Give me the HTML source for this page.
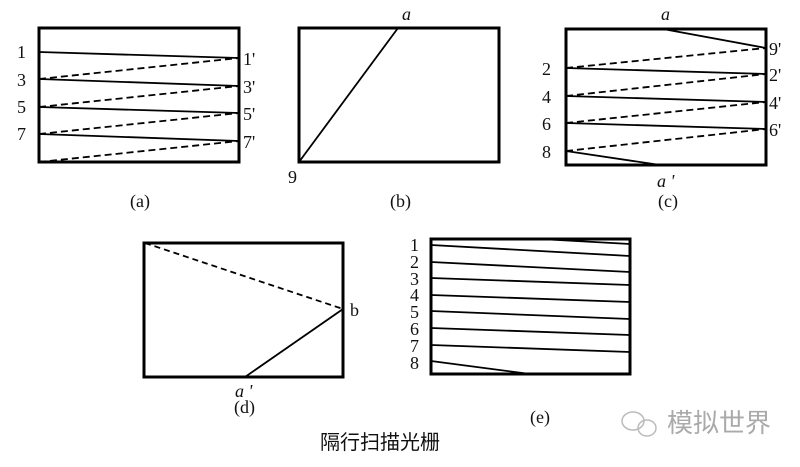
<!DOCTYPE html>
<html><head><meta charset="utf-8"><style>
html,body{margin:0;padding:0;background:#fff;}
svg{display:block;}
text{font-family:"Liberation Serif",serif;font-size:18px;fill:#111;}
.i{font-style:italic;}
.cn{font-family:"Liberation Sans","Noto Sans CJK SC",sans-serif;}
</style></head><body>
<svg width="800" height="467" viewBox="0 0 800 467" xmlns="http://www.w3.org/2000/svg">
<g stroke="#000" fill="none">
<rect x="39" y="28" width="200" height="134" stroke-width="3"/>
<g stroke-width="1.8">
<line x1="39" y1="52" x2="239" y2="58"/>
<line x1="39" y1="79" x2="239" y2="86"/>
<line x1="39" y1="107" x2="239" y2="113"/>
<line x1="39" y1="134" x2="239" y2="141"/>
</g>
<g stroke-width="1.8" stroke-dasharray="7,4">
<line x1="39" y1="79" x2="239" y2="58"/>
<line x1="39" y1="107" x2="239" y2="86"/>
<line x1="39" y1="134" x2="239" y2="113"/>
<line x1="39" y1="162" x2="239" y2="141"/>
</g>
<rect x="299" y="28" width="200" height="134" stroke-width="3"/>
<line x1="299" y1="162" x2="398" y2="28" stroke-width="1.8"/>
<rect x="566" y="29" width="200" height="136" stroke-width="3"/>
<g stroke-width="1.8">
<line x1="663" y1="29" x2="766" y2="48"/>
<line x1="566" y1="68" x2="766" y2="74"/>
<line x1="566" y1="96" x2="766" y2="102"/>
<line x1="566" y1="123" x2="766" y2="129"/>
<line x1="566" y1="151" x2="660" y2="165"/>
</g>
<g stroke-width="1.8" stroke-dasharray="7,4">
<line x1="566" y1="68" x2="766" y2="48"/>
<line x1="566" y1="96" x2="766" y2="74"/>
<line x1="566" y1="123" x2="766" y2="102"/>
<line x1="566" y1="151" x2="766" y2="129"/>
</g>
<rect x="144" y="243" width="199" height="134" stroke-width="3"/>
<line x1="145" y1="243" x2="343" y2="309" stroke-width="1.8" stroke-dasharray="6,4"/>
<line x1="343" y1="309" x2="245" y2="377" stroke-width="1.8"/>
<rect x="431" y="239" width="199" height="135" stroke-width="3"/>
<g stroke-width="1.8">
<line x1="540" y1="239" x2="630" y2="244"/>
<line x1="431" y1="245" x2="630" y2="256"/>
<line x1="431" y1="262" x2="630" y2="272"/>
<line x1="431" y1="278" x2="630" y2="285"/>
<line x1="431" y1="295" x2="630" y2="302"/>
<line x1="431" y1="311" x2="630" y2="319"/>
<line x1="431" y1="328" x2="630" y2="335"/>
<line x1="431" y1="345" x2="630" y2="352"/>
<line x1="431" y1="361" x2="530" y2="374"/>
</g>
</g>
<text x="17" y="58">1</text><text x="17" y="86">3</text><text x="17" y="113">5</text><text x="17" y="140">7</text>
<text x="243" y="65">1'</text><text x="243" y="93">3'</text><text x="243" y="120">5'</text><text x="243" y="148">7'</text>
<text x="130" y="207">(a)</text>
<text class="i" x="402" y="20">a</text>
<text x="288" y="183">9</text>
<text x="390" y="207">(b)</text>
<text class="i" x="661" y="20">a</text>
<text x="542" y="75">2</text><text x="542" y="103">4</text><text x="542" y="130">6</text><text x="542" y="158">8</text>
<text x="769" y="55">9'</text><text x="769" y="81">2'</text><text x="769" y="109">4'</text><text x="769" y="136">6'</text>
<text class="i" x="657" y="187">a '</text>
<text x="658" y="207">(c)</text>
<text x="350" y="316">b</text>
<text class="i" x="235" y="397">a '</text>
<text x="234" y="413">(d)</text>
<text x="410" y="251">1</text><text x="410" y="268">2</text><text x="410" y="285">3</text><text x="410" y="301">4</text>
<text x="410" y="318">5</text><text x="410" y="335">6</text><text x="410" y="352">7</text><text x="410" y="369">8</text>
<text x="530" y="423">(e)</text>
<text class="cn" x="320" y="449" style="font-size:20px">隔行扫描光栅</text>
<g stroke="#bbb" fill="none" stroke-width="1.5">
<ellipse cx="633" cy="421" rx="11" ry="9"/>
<ellipse cx="647" cy="428" rx="9" ry="8"/>
</g>
<text class="cn" x="667" y="432" style="font-size:26px;fill:#aaa">模拟世界</text>
</svg>
</body></html>
